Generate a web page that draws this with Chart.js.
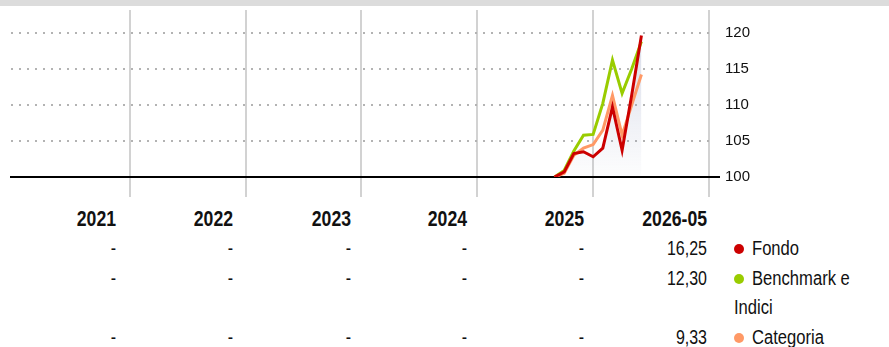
<!DOCTYPE html>
<html lang="it">
<head>
<meta charset="utf-8">
<title>Rendimenti</title>
<script src="https://cdn.jsdelivr.net/npm/chart.js@4/dist/chart.umd.min.js"></script>
<style>
  html, body { margin: 0; padding: 0; background: #fff; }
  body { width: 889px; height: 347px; position: relative; overflow: hidden;
         font-family: "Liberation Sans", Arial, sans-serif; color: #111; }
  .topbar { position: absolute; left: 0; top: 0; width: 889px; height: 6px; background: #dcdcdc; }
  .plot { position: absolute; left: 0; top: 0; width: 889px; height: 200px; }
  /* narrow look: Liberation Sans squeezed horizontally */
  .cell { position: absolute; width: 140px; text-align: right; line-height: 29px; font-size: 19.5px;
          white-space: nowrap; transform: scaleX(0.82); transform-origin: right center; }
  .cell.head { font-weight: bold; font-size: 21.5px; }
  .leg { position: absolute; line-height: 29px; font-size: 20px; white-space: nowrap;
         transform: scaleX(0.83); transform-origin: left center; }
  .dot { position: absolute; width: 10px; height: 10px; border-radius: 50%; }
</style>
</head>
<body>
<div class="topbar"></div>
<div class="plot"><canvas id="perfChart"></canvas></div>
<div id="table"></div>

<script>
  // monthly index values, base 100
  const months = ["2025-08", "2025-09", "2025-10", "2025-11", "2025-12",
                  "2026-01", "2026-02", "2026-03", "2026-04", "2026-05"];
  const fondo = [100, 100.7, 103.25, 103.5, 102.8, 104.0, 109.7, 103.7, 111.4, 119.6];
  const benchmark = [100, 100.9, 103.6, 105.8, 105.9, 110.2, 116.2, 111.6, 115.0, 118.8];
  const categoria = [100, 100.5, 103.0, 104.0, 104.5, 106.5, 111.3, 105.8, 110.0, 114.2];

  const yTicks = [100, 105, 110, 115, 120];
  const years = ["2021", "2022", "2023", "2024", "2025", "2026-05"];
  const firstYear = 2021;

  // calendar returns table
  const rowFondo = ["-", "-", "-", "-", "-", "16,25"];
  const rowBenchmark = ["-", "-", "-", "-", "-", "12,30"];
  const rowCategoria = ["-", "-", "-", "-", "-", "9,33"];

  const RED = "#cc0000";
  const GREEN = "#99cc00";
  const ORANGE = "#ff9966";

  function monthIndex(label) {
    const [y, m] = label.split("-").map(Number);
    return (y - firstYear) * 12 + m;
  }

  function toPoints(values) {
    return values.map((v, i) => ({ x: monthIndex(months[i]), y: v }));
  }

  function fillGradient(context) {
    const { chart } = context;
    const area = chart.chartArea;
    if (!area) return "rgba(0,0,0,0)";
    const g = chart.ctx.createLinearGradient(0, area.top, 0, area.bottom);
    g.addColorStop(0, "rgba(150,160,195,0.42)");
    g.addColorStop(1, "rgba(150,160,195,0.02)");
    return g;
  }

  const lineStyle = { pointRadius: 0, borderWidth: 3, tension: 0, borderJoinStyle: "miter" };

  new Chart(document.getElementById("perfChart"), {
    type: "line",
    data: {
      datasets: [
        Object.assign({ label: "Fondo", data: toPoints(fondo), borderColor: RED,
                        fill: "start", backgroundColor: fillGradient }, lineStyle),
        Object.assign({ label: "Categoria", data: toPoints(categoria), borderColor: ORANGE,
                        fill: false }, lineStyle),
        Object.assign({ label: "Benchmark e Indici", data: toPoints(benchmark), borderColor: GREEN,
                        fill: false }, lineStyle),
      ],
    },
    options: {
      responsive: true,
      maintainAspectRatio: false,
      animation: false,
      layout: { padding: { left: 11, top: 10, right: 0, bottom: 0 } },
      plugins: {
        legend: { display: false },
        tooltip: { enabled: false },
        filler: { drawTime: "beforeDatasetsDraw" },
      },
      scales: {
        x: {
          type: "linear",
          min: -0.3,
          max: years.length * 12,
          afterFit: (s) => { s.height = 23; },
          afterBuildTicks: (s) => { s.ticks = years.map((_, i) => ({ value: (i + 1) * 12 })); },
          ticks: { display: false },
          grid: { color: "#d2d2d2", lineWidth: 2, drawTicks: true, tickLength: 20, tickColor: "#d2d2d2", tickWidth: 2 },
          border: { display: true, color: "#000", width: 2 },
        },
        y: {
          position: "right",
          min: 100,
          max: 123.15,
          afterFit: (s) => { s.width = 180; },
          afterBuildTicks: (s) => { s.ticks = yTicks.map((v) => ({ value: v })); },
          ticks: {
            color: "#111",
            padding: 5,
            // small lineHeight keeps the label padding from pushing the plot top down
            font: { family: "'Liberation Sans', Arial, sans-serif", size: 15, lineHeight: 0.5 },
          },
          grid: {
            color: (c) => (c.tick && c.tick.value === 100 ? "rgba(0,0,0,0)" : "#b3b3b3"),
            lineWidth: 2,
            drawTicks: true,
            tickLength: 11,
            tickWidth: 2,
            tickColor: (c) => (c.tick && c.tick.value === 100 ? "#000" : "rgba(0,0,0,0)"),
          },
          border: { display: false, dash: [2, 6] },
        },
      },
    },
  });

  // table under the plot
  const table = document.getElementById("table");
  const colRight = [116, 233, 351, 467, 584, 707];
  const rowTop = { head: 205, fondo: 234, bench: 263.5, indici: 293, cat: 322.5 };

  function addCell(text, col, top, head) {
    const d = document.createElement("div");
    d.className = head ? "cell head" : "cell";
    d.textContent = text;
    d.style.left = colRight[col] - 140 + "px";
    d.style.top = top + "px";
    table.appendChild(d);
  }

  function addText(text, left, top) {
    const t = document.createElement("div");
    t.className = "leg";
    t.textContent = text;
    t.style.left = left + "px";
    t.style.top = top + "px";
    table.appendChild(t);
  }

  function addLegend(text, color, top) {
    const dot = document.createElement("span");
    dot.className = "dot";
    dot.style.background = color;
    dot.style.left = "734px";
    dot.style.top = top + 10 + "px";
    table.appendChild(dot);
    addText(text, 752, top);
  }

  years.forEach((y, i) => addCell(y, i, rowTop.head, true));
  rowFondo.forEach((v, i) => addCell(v, i, rowTop.fondo));
  rowBenchmark.forEach((v, i) => addCell(v, i, rowTop.bench));
  rowCategoria.forEach((v, i) => addCell(v, i, rowTop.cat));

  addLegend("Fondo", RED, rowTop.fondo);
  addLegend("Benchmark e", GREEN, rowTop.bench);
  addText("Indici", 734, rowTop.indici);
  addLegend("Categoria", ORANGE, rowTop.cat);
</script>
</body>
</html>
